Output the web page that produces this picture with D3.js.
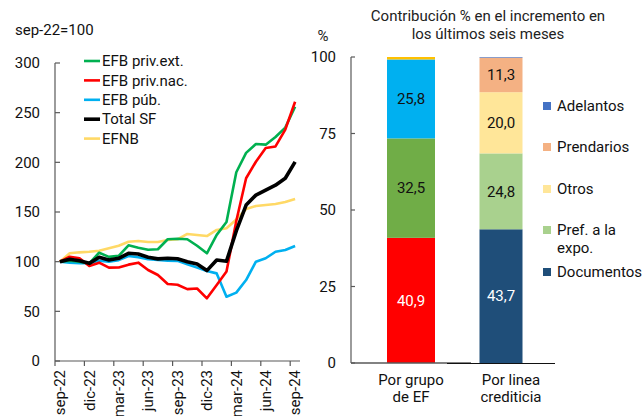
<!DOCTYPE html>
<html><head><meta charset="utf-8">
<script src="https://cdn.jsdelivr.net/npm/d3@7"></script>
<style>
body{margin:0;background:#fff;}
svg{display:block;font-family:Roboto,"Noto Sans",sans-serif;}
</style></head>
<body><svg id="c" width="644" height="416"></svg>
<script>
// ---------- data ----------
const months = ["sep-22","oct-22","nov-22","dic-22","ene-23","feb-23","mar-23","abr-23","may-23","jun-23","jul-23","ago-23","sep-23","oct-23","nov-23","dic-23","ene-24","feb-24","mar-24","abr-24","may-24","jun-24","jul-24","ago-24","sep-24"];
const tickMonths = ["sep-22","dic-22","mar-23","jun-23","sep-23","dic-23","mar-24","jun-24","sep-24"];
const privExt = [100,101,100,98.3,109,104.8,105.8,116.5,114,112,112.5,122.6,123,122.6,116,108.4,127,140,190,209.5,218.5,217.8,225.5,235,256];
const privNac = [100,105,103.5,95.6,99,94,94.2,97,99,91.6,86.6,77.5,76.8,72.4,73,63.1,76.5,90,141,184,200.6,214.5,216,233,261];
const pub     = [100,99,98.5,98.5,101,100,101.5,105.7,104.5,102.4,101.7,101,100.8,97.5,94,90.5,88.2,64.7,68.8,81.5,100,103.4,110,111.7,115.8];
const total   = [100,102.4,101,98.3,104.4,101.7,103.4,108.4,107.7,104.4,102.8,103.5,103,100,97.6,91,101.7,100.5,131,157,167,172,177,184,200.5];
const efnb    = [100,108.4,109.4,110,111,113.4,116,120,120.8,119.8,119.8,121.8,122.5,127.9,126.9,125.8,131.9,133.6,142.5,153,156,157,158,160,163];
const lineNames = ["EFB priv.ext.","EFB priv.nac.","EFB púb.","Total SF","EFNB"];
const leftTicks = [0,50,100,150,200,250,300];

const barCats = ["Por grupo de EF","Por linea crediticia"];
const barCatLines = [["Por grupo","de EF"],["Por linea","crediticia"]];
const bar1Names = ["EFB priv.nac.","EFB priv.ext.","EFB púb.","EFNB"];
const bar1Vals  = [40.9,32.5,25.8,0.8];
const bar2Names = ["Documentos","Pref. a la expo.","Otros","Prendarios","Adelantos"];
const bar2Vals  = [43.7,24.8,20.0,11.3,0.2];
const rightTicks = [0,25,50,75,100];

// ---------- styles ----------
const lineColors = {"EFB priv.ext.":"#00B050","EFB priv.nac.":"#FF0000","EFB púb.":"#00B0F0","Total SF":"#000000","EFNB":"#FFD966"};
const lineWidths = {"EFB priv.ext.":2.6,"EFB priv.nac.":2.6,"EFB púb.":2.6,"Total SF":3.6,"EFNB":2.6};
const bar1Colors = ["#FF0000","#70AD47","#00B0F0","#FFC000"];
const bar2Colors = ["#1F4E79","#A9D18E","#FFE699","#F4B183","#4472C4"];
const bar1Text = ["#fff","#111","#111",null];
const bar2Text = ["#fff","#111","#111","#111",null];

const svg = d3.select("#c");
const axisCol = "#595959";

// ---------- left chart ----------
const x = d3.scaleBand().domain(months).range([55,300]).padding(0);
const y = d3.scaleLinear().domain([0,300]).range([361,63]);
const cx = m => x(m) + x.bandwidth()/2;

svg.append("text").attr("x",15).attr("y",35).attr("font-size",15).attr("fill","#111").text("sep-22=100");

// y axis
svg.append("line").attr("x1",55).attr("x2",55).attr("y1",y(300)).attr("y2",y(0)).attr("stroke",axisCol).attr("stroke-width",1.2);
leftTicks.forEach(t=>{
  svg.append("line").attr("x1",55).attr("x2",60).attr("y1",y(t)).attr("y2",y(t)).attr("stroke",axisCol).attr("stroke-width",1.2);
  svg.append("text").attr("x",40).attr("y",y(t)).attr("dy","0.35em").attr("text-anchor","end").attr("font-size",15).attr("fill","#111").text(t);
});
// x axis
svg.append("line").attr("x1",55).attr("x2",300).attr("y1",y(0)).attr("y2",y(0)).attr("stroke",axisCol).attr("stroke-width",1.2);
tickMonths.forEach(m=>{
  svg.append("line").attr("x1",x(m)).attr("x2",x(m)).attr("y1",y(0)).attr("y2",y(0)+5).attr("stroke",axisCol).attr("stroke-width",1.2);
  svg.append("text").attr("transform",`translate(${cx(m)},${y(0)+9}) rotate(-90)`)
    .attr("dy","0.35em").attr("text-anchor","end").attr("font-size",15).attr("fill","#111").text(m);
});

const seriesData = {"EFB priv.ext.":privExt,"EFB priv.nac.":privNac,"EFB púb.":pub,"Total SF":total,"EFNB":efnb};
const line = d3.line().x((d,i)=>cx(months[i])).y(d=>y(d));
["EFB púb.","EFNB","EFB priv.ext.","EFB priv.nac.","Total SF"].forEach(n=>{
  svg.append("path").datum(seriesData[n]).attr("d",line).attr("fill","none")
    .attr("stroke",lineColors[n]).attr("stroke-width",lineWidths[n]).attr("stroke-linejoin","round");
});
// legend
lineNames.forEach((n,i)=>{
  const yy = 61 + i*19.4;
  svg.append("line").attr("x1",84).attr("x2",100).attr("y1",yy).attr("y2",yy).attr("stroke",lineColors[n]).attr("stroke-width",lineWidths[n]);
  svg.append("text").attr("x",102).attr("y",yy).attr("dy","0.35em").attr("font-size",15).attr("fill","#111").text(n);
});

// ---------- right chart ----------
const yr = d3.scaleLinear().domain([0,100]).range([363,57]);
const xr = d3.scaleBand().domain(barCats).range([366,546]).padding(0);
const barW = [48,43];
const labelOff = [0,10];

svg.append("text").attr("x",488).attr("y",21).attr("text-anchor","middle").attr("font-size",15).attr("fill","#222").text("Contribución % en el incremento en");
svg.append("text").attr("x",488).attr("y",39).attr("text-anchor","middle").attr("font-size",15).attr("fill","#222").text("los últimos seis meses");
svg.append("text").attr("x",323).attr("y",41).attr("text-anchor","middle").attr("font-size",15).attr("fill","#222").text("%");

svg.append("line").attr("x1",351).attr("x2",351).attr("y1",yr(100)).attr("y2",yr(0)).attr("stroke",axisCol).attr("stroke-width",1.2);
rightTicks.forEach(t=>{
  svg.append("line").attr("x1",351).attr("x2",355).attr("y1",yr(t)).attr("y2",yr(t)).attr("stroke",axisCol).attr("stroke-width",1.2);
  svg.append("text").attr("x",336).attr("y",yr(t)).attr("dy","0.35em").attr("text-anchor","end").attr("font-size",15).attr("fill","#111").text(t);
});

function stackBar(ci, vals, cols, txtCols){
  const c = barCats[ci];
  const mid = xr(c) + xr.bandwidth()/2;
  let acc = 0;
  vals.forEach((v,i)=>{
    const y0 = yr(acc), y1 = yr(acc+v);
    svg.append("rect").attr("x",mid-barW[ci]/2).attr("width",barW[ci]).attr("y",y1).attr("height",y0-y1).attr("fill",cols[i]);
    if(txtCols[i]){
      svg.append("text").attr("x",mid).attr("y",(y0+y1)/2).attr("dy","0.35em").attr("text-anchor","middle")
        .attr("font-size",15).attr("fill",txtCols[i]).text(d3.format(".1f")(v).replace(".",","));
    }
    acc += v;
  });
  barCatLines[ci].forEach((t,k)=>{
    svg.append("text").attr("x",mid+labelOff[ci]).attr("y",385+k*17).attr("text-anchor","middle").attr("font-size",15).attr("fill","#111").text(t);
  });
}
stackBar(0,bar1Vals,bar1Colors,bar1Text);
stackBar(1,bar2Vals,bar2Colors,bar2Text);

// x axis segments
svg.append("line").attr("x1",351).attr("x2",471).attr("y1",yr(0)).attr("y2",yr(0)).attr("stroke",axisCol).attr("stroke-width",1.5);
svg.append("line").attr("x1",447).attr("x2",555).attr("y1",yr(0)+0.5).attr("y2",yr(0)+0.5).attr("stroke","#111").attr("stroke-width",1.2);

// right legend
const legItems = [
  {n:["Adelantos"],c:bar2Colors[4],y:106},
  {n:["Prendarios"],c:bar2Colors[3],y:147},
  {n:["Otros"],c:bar2Colors[2],y:189},
  {n:["Pref. a la","expo."],c:bar2Colors[1],y:230},
  {n:["Documentos"],c:bar2Colors[0],y:272}
];
legItems.forEach(it=>{
  svg.append("rect").attr("x",543).attr("y",it.y-4).attr("width",8).attr("height",8).attr("fill",it.c);
  it.n.forEach((t,k)=>{
    svg.append("text").attr("x",557).attr("y",it.y+k*18).attr("dy","0.35em").attr("font-size",15).attr("fill","#111").text(t);
  });
});
</script></body></html>
